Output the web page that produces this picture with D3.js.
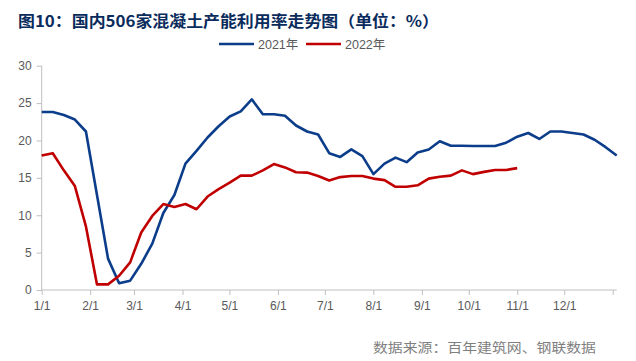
<!DOCTYPE html>
<html><head><meta charset="utf-8">
<script src="https://cdn.jsdelivr.net/npm/d3@7"></script>
<style>html,body{margin:0;padding:0;background:#fff;}svg{display:block;}</style>
</head><body>
<script>
const title = "图10：国内506家混凝土产能利用率走势图（单位：%）";
const source = "数据来源：百年建筑网、钢联数据";
const seriesNames = ["2021年", "2022年"];
const monthLabels = ["1/1","2/1","3/1","4/1","5/1","6/1","7/1","8/1","9/1","10/1","11/1","12/1"];
const monthStartDays = [0,31,59,90,120,151,181,212,243,273,304,334,365];
const yTicks = [0,5,10,15,20,25,30];
const values2021 = [23.8,23.8,23.4,22.8,21.2,12.7,4.2,0.9,1.25,3.5,6.2,10.3,12.7,16.9,18.6,20.4,21.9,23.2,23.9,25.5,23.5,23.5,23.3,22.0,21.2,20.8,18.3,17.8,18.8,17.9,15.5,16.9,17.7,17.1,18.4,18.8,19.9,19.3,19.3,19.25,19.25,19.25,19.7,20.5,21.0,20.2,21.2,21.2,21.0,20.8,20.1,19.1,18.0];
const values2022 = [18.0,18.3,16.0,13.9,8.5,0.75,0.75,1.9,3.7,7.7,9.9,11.5,11.1,11.5,10.8,12.5,13.5,14.35,15.3,15.3,16.0,16.85,16.4,15.75,15.7,15.25,14.65,15.1,15.25,15.25,14.9,14.7,13.8,13.8,14.0,14.9,15.15,15.3,16.0,15.5,15.8,16.05,16.05,16.3];
const colors = ["#0b3d8a", "#c00000"];

const W = 636, H = 361;
const svg = d3.select("body").append("svg").attr("width", W).attr("height", H);
const pLeft = 41.7, pRight = 612.7, pTop = 65.7, pBottom = 290, axisEnd = 616.7;

const x = d3.scaleLinear().domain([0, 365]).range([pLeft, pRight]);
const y = d3.scaleLinear().domain([0, 30]).range([pBottom, pTop]);
// weekly sampling; last (53rd) point lands at the axis end
const stepDays = x.invert(axisEnd) / 52;

// title
svg.append("text").attr("x", 18).attr("y", 26.5)
  .attr("font-family", "'Noto Sans CJK SC', sans-serif").attr("font-weight", "bold")
  .attr("font-size", 15.5).attr("fill", "#0a2c5c")
  .attr("textLength", 421).attr("lengthAdjust", "spacingAndGlyphs")
  .text(title);

// axes
const axisColor = "#bfbfbf";
const yAxis = svg.append("g").attr("transform", `translate(${pLeft},0)`)
  .call(d3.axisLeft(y).tickValues(yTicks).tickSize(5).tickPadding(5));
yAxis.select(".domain").attr("stroke", axisColor).attr("d", `M0,${pTop}V${pBottom}`);
yAxis.selectAll(".tick line").attr("stroke", axisColor);
yAxis.selectAll(".tick text").attr("fill", "#595959").attr("font-size", 12)
  .attr("font-family", "'Liberation Sans', Arial, sans-serif");

const xAxis = svg.append("g").attr("transform", `translate(0,${pBottom})`)
  .call(d3.axisBottom(x).tickValues(monthStartDays).tickSize(5).tickPadding(6)
    .tickFormat((d, i) => monthLabels[i] || ""));
xAxis.select(".domain").attr("stroke", axisColor).attr("d", `M${pLeft},0H${axisEnd}`);
xAxis.selectAll(".tick line").attr("stroke", axisColor);
xAxis.selectAll(".tick text").attr("fill", "#595959").attr("font-size", 12)
  .attr("font-family", "'Liberation Sans', Arial, sans-serif");

// lines
const line = d3.line().x((d, i) => x(i * stepDays)).y(d => y(d));
[values2021, values2022].forEach((vals, k) => {
  svg.append("path").datum(vals).attr("d", line).attr("fill", "none")
    .attr("stroke", colors[k]).attr("stroke-width", 2.6).attr("stroke-linejoin", "round");
});

// legend
const legX = [219, 306];
seriesNames.forEach((name, k) => {
  const g = svg.append("g").attr("transform", `translate(${legX[k]},44)`);
  g.append("line").attr("x1", 0).attr("x2", 35).attr("y1", 0).attr("y2", 0)
    .attr("stroke", colors[k]).attr("stroke-width", 2.6);
  g.append("text").attr("x", 39).attr("y", 4.5).attr("fill", "#595959").attr("font-size", 12.5)
    .attr("font-family", "'Liberation Sans', 'Noto Sans CJK SC', sans-serif").text(name);
});

// source
svg.append("text").attr("x", 373).attr("y", 352).attr("fill", "#7f7f7f").attr("font-size", 13)
  .attr("font-family", "'Noto Sans CJK SC', sans-serif")
  .attr("textLength", 223).attr("lengthAdjust", "spacingAndGlyphs").text(source);
</script>
</body></html>
